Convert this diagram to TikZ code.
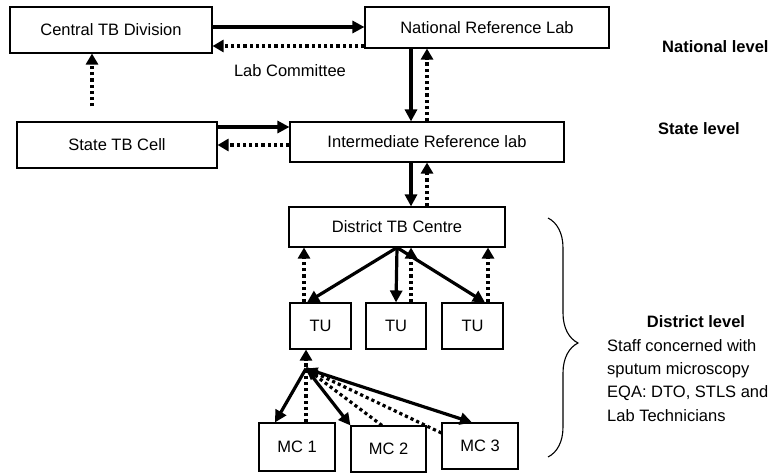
\documentclass[tikz,border=0pt]{standalone}
\usepackage{fontspec}
\setmainfont{Liberation Sans}
\usetikzlibrary{arrows.meta,decorations.pathreplacing}
\begin{document}
\begin{tikzpicture}[x=1pt,y=-1pt,
  box/.style={draw, line width=1.1pt, inner sep=0pt, font=\fontsize{16.5}{20}\selectfont},
  sarr/.style={line width=3.2pt, -{Triangle[length=12pt,width=12pt]}},
  darr/.style={line width=3.2pt, dash pattern=on 3.2pt off 3pt, -{Triangle[length=11pt,width=12pt]}},
  lbl/.style={inner sep=0pt, text height=12pt, text depth=3.5pt, font=\fontsize{16.5}{20}\selectfont},
  blbl/.style={lbl, font=\fontsize{16.5}{20}\selectfont\bfseries}
]
\useasboundingbox[fill=white] (0,0) rectangle (773,473);

% boxes
\node[box, minimum width=202pt, minimum height=46pt] (ctd) at (111,30) {Central TB Division};
\node[box, minimum width=244pt, minimum height=41pt] (nrl) at (487,27.5) {National Reference Lab};
\node[box, minimum width=200pt, minimum height=46pt] (stc) at (117,145) {State TB Cell};
\node[box, minimum width=274pt, minimum height=40pt] (irl) at (427,142) {Intermediate Reference lab};
\node[box, minimum width=216pt, minimum height=40pt] (dtc) at (397,227) {District TB Centre};
\node[box, minimum width=61pt, minimum height=46pt] (tu1) at (320.5,326) {TU};
\node[box, minimum width=60pt, minimum height=46pt] (tu2) at (396,326) {TU};
\node[box, minimum width=61pt, minimum height=46pt] (tu3) at (472.5,326) {TU};
\node[box, minimum width=76pt, minimum height=48pt] (mc1) at (297,447) {MC 1};
\node[box, minimum width=75pt, minimum height=46pt] (mc2) at (388.5,449) {MC 2};
\node[box, minimum width=76pt, minimum height=46pt] (mc3) at (480,446) {MC 3};

% national level
\draw[sarr] ([yshift=3pt]ctd.east) -- ([yshift=3pt]ctd.east -| nrl.west);
\draw[darr] ([yshift=-16pt]ctd.east -| nrl.west) -- ([yshift=-16pt]ctd.east);
\node[lbl] (labc) at (290,72) {Lab Committee};
\draw[darr] ([shift={(-25pt,15pt)}]stc.north) -- ([xshift=-25pt]stc.north |- ctd.south);

% state level
\draw[sarr] ([yshift=18pt]stc.east) -- ([yshift=18pt]stc.east -| irl.west);
\draw[darr] (stc.east -| irl.west) -- (stc.east);
\draw[sarr] ([xshift=-16pt]irl.north |- nrl.south) -- ([xshift=-16pt]irl.north);
\draw[darr] (irl.north) -- (irl.north |- nrl.south);
\draw[sarr] ([xshift=-16pt]irl.south) -- ([xshift=-16pt]irl.south |- dtc.north);
\draw[darr] (irl.south |- dtc.north) -- (irl.south);

% district
\draw[sarr] (dtc.south) -- ([xshift=-13.5pt]tu1.north);
\draw[sarr] (dtc.south) -- (tu2.north);
\draw[sarr] (dtc.south) -- ([xshift=12.5pt]tu3.north);
\draw[darr] ([xshift=-16.5pt]tu1.north) -- ([xshift=-16.5pt]tu1.north |- dtc.south);
\draw[darr] ([xshift=15pt]tu2.north) -- ([xshift=15pt]tu2.north |- dtc.south);
\draw[darr] ([xshift=15.5pt]tu3.north) -- ([xshift=15.5pt]tu3.north |- dtc.south);

% MC level
\coordinate (hub) at ([shift={(-14.5pt,-19pt)}]tu1.south);
\draw[darr] (mc1.north -| hub) -- (hub |- tu1.south);
\draw[darr] ([xshift=-6.5pt]mc2.north) -- (hub);
\draw[darr] ([yshift=13pt]mc3.west) -- (hub);
\draw[sarr] (hub) -- ([xshift=-22pt]mc1.north);
\draw[sarr] (hub) -- (mc2.north west);
\draw[sarr] (hub) -- ([xshift=-8pt]mc3.north);

% brace
\coordinate (bt) at (548,218);
\coordinate (bb) at (548,457);
\draw[line width=1.1pt, decorate, decoration={brace, amplitude=30pt, aspect=0.523}] (bt) -- (bb);

% level labels
\node[blbl, anchor=west] (natl) at (662,48) {National level};
\node[blbl, anchor=west] (statel) at (658,130) {State level};
\node[blbl] (distl) at (696,323) {District level};
\node[lbl, anchor=west] (d1) at (607,347) {Staff concerned with};
\node[lbl, anchor=west] (d2) at (607,370) {sputum microscopy};
\node[lbl, anchor=west] (d3) at (607,393.5) {EQA: DTO, STLS and};
\node[lbl, anchor=west] (d4) at (607,417) {Lab Technicians};
\end{tikzpicture}
\end{document}
